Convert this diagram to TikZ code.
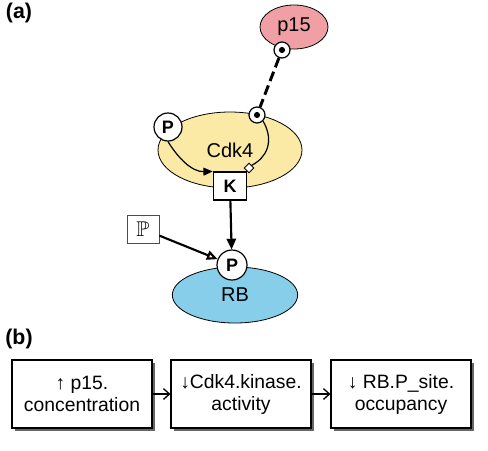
\documentclass[tikz,border=0pt]{standalone}
\usepackage{amssymb}
\usepackage{fontspec}
\setmainfont{Liberation Sans}
\usetikzlibrary{arrows.meta,shapes.geometric,shadows}
\definecolor{pinkfill}{RGB}{240,160,165}
\definecolor{yellowfill}{RGB}{250,234,165}
\definecolor{bluefill}{RGB}{135,206,235}
\tikzset{
	species/.style={ellipse, draw, line width=0.6pt, inner sep=0pt, font=\fontsize{15}{16}\selectfont},
	site/.style={circle, draw, fill=white, line width=0.9pt, inner sep=0pt, minimum size=12pt},
	statecirc/.style={circle, draw, fill=white, line width=0.9pt, inner sep=0pt, font=\fontsize{13.5}{13.5}\selectfont\bfseries},
	kbox/.style={rectangle, draw, fill=white, line width=0.9pt, inner sep=0pt, minimum width=25pt, minimum height=21pt, font=\fontsize{13.5}{13.5}\selectfont\bfseries},
	obsbox/.style={rectangle, draw, fill=white, line width=0.8pt, inner sep=0pt, minimum width=105pt, minimum height=51pt, align=center,
		font=\fontsize{14.5}{16.5}\selectfont, drop shadow={shadow xshift=2.2pt, shadow yshift=-2.2pt, fill=black!60, opacity=1}},
	panel/.style={font=\fontsize{16}{16}\selectfont\bfseries}
}
\begin{document}
\begin{tikzpicture}[x=0.75pt, y=-0.75pt]
	\useasboundingbox (0,0) rectangle (488,450);
	\node[panel] (la) at (19,13) {(a)};
	\node[panel] (lb) at (19,339) {(b)};
	% species
	\node[species, fill=pinkfill, minimum width=51pt, minimum height=33pt] (p15) at (294,27) {p15};
	\node[species, fill=yellowfill, minimum width=108pt, minimum height=57pt] (cdk4) at (230,150) {Cdk4};
	\node[species, fill=bluefill, minimum width=94pt, minimum height=42pt] (rb) at (235,295) {RB};
	% sites
	\node[site] (p15site) at (282,50) {};
	\fill (p15site) circle (2.3pt);
	\node[site] (cdksite) at (257,115) {};
	\fill (cdksite) circle (2.3pt);
	\node[statecirc, minimum size=21pt] (cdkp) at (168,127) {P};
	\node[kbox] (k) at (230,186) {K};
	\node[diamond, draw, fill=white, line width=0.7pt, inner sep=0pt, minimum size=7.5pt] (dm) at (249,168) {};
	\node[statecirc, minimum size=22.5pt] (rbp) at (232,265) {P};
	\node[rectangle, draw=black!70, fill=white, line width=0.6pt, minimum width=24pt, minimum height=21pt, inner sep=0pt,
		font=\fontsize{16}{16}\selectfont] (pbox) at (143,229) {$\mathbb{P}$};
	% connectors
	\draw[line width=2.2pt, dash pattern=on 7.5pt off 3.5pt] (p15site) -- (cdksite);
	\draw[line width=0.9pt, -{Triangle[length=7pt, width=6pt]}] (cdkp.south) .. controls (178,158) and (192,172) .. (k.north west);
	\draw[line width=0.9pt] (cdksite.south east) .. controls (275,142) and (266,158) .. (dm.north east);
	\draw[line width=1.6pt, -{Triangle[length=8pt, width=7pt]}] (k) -- (rbp);
	\draw[line width=1.6pt, -{Triangle[open, fill=white, length=8pt, width=7pt]}] (pbox) -- (rbp);
	% observables
	\node[obsbox] (obs1) at (82,394) {↑ p15.\\concentration};
	\node[obsbox] (obs2) at (241,394) {↓Cdk4.kinase.\\activity};
	\node[obsbox] (obs3) at (401,394) {↓ RB.P\_site.\\occupancy};
	\draw[line width=1pt, -{Straight Barb[length=4.5pt, width=8pt]}] (obs1) -- (obs2);
	\draw[line width=1pt, -{Straight Barb[length=4.5pt, width=8pt]}] (obs2) -- (obs3);
\end{tikzpicture}
\end{document}
